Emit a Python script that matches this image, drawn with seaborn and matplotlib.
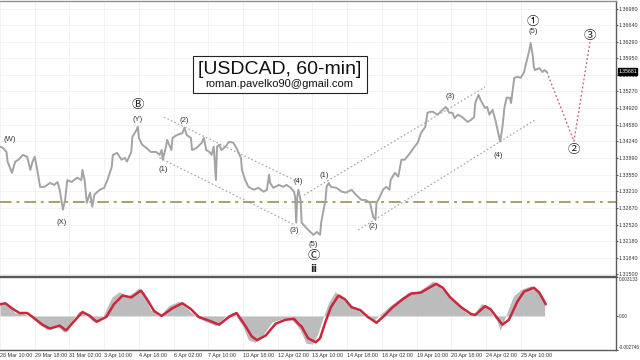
import numpy as np
import pandas as pd
import matplotlib
matplotlib.use("Agg")
import matplotlib.pyplot as plt
import matplotlib.transforms as mtrans
from matplotlib.patches import Rectangle
import seaborn as sns

sns.set_theme(style="white")
plt.rcParams['font.family'] = ['Liberation Sans', 'DejaVu Sans']

# ---------------- data ----------------
price_bars = [0, 3, 6, 7, 11, 14, 17, 21, 25, 28, 30, 32, 34, 37, 41, 46, 50, 53, 55, 57, 58, 60, 62, 66, 71, 75, 76, 78,
              80, 83, 85, 87, 92, 96, 99, 103, 104, 108, 112, 115, 117, 121, 122, 126, 127, 128, 131, 135, 139, 144,
              147, 149, 150, 153, 154, 158, 159, 163, 168, 170, 172, 176, 177, 181, 186, 188, 190, 193, 195, 197, 199,
              200, 202, 204, 208, 211, 215, 218, 222, 223, 226, 229, 234, 238, 243, 246, 248, 249, 252, 257, 261, 264,
              268, 271, 272, 273, 274, 275, 277, 278, 282, 286, 289, 292, 295, 296, 300, 301, 303, 305, 310, 315, 319,
              324, 328, 333, 337, 341, 344, 346, 347, 350, 353, 356, 359, 360, 364, 367, 370, 373, 378, 382, 385, 388,
              392, 394, 397, 399, 403, 408, 411, 414, 417, 419, 422, 426, 431, 434, 437, 438, 441, 443, 447, 449, 451,
              454, 457, 460, 461, 463, 465, 467, 470, 471, 474, 477, 480, 483, 485, 488, 489, 491, 492, 493, 497, 500,
              502, 504]
price_vals = [1.3413, 1.3410, 1.3402, 1.3382, 1.3359, 1.3382, 1.3386, 1.3396, 1.3392, 1.3365, 1.3382, 1.3392, 1.3369,
              1.3330, 1.3330, 1.3338, 1.3334, 1.3340, 1.3324, 1.3297, 1.3283, 1.3303, 1.3344, 1.3340, 1.3349, 1.3344,
              1.3365, 1.3344, 1.3297, 1.3318, 1.3289, 1.3314, 1.3324, 1.3328, 1.3344, 1.3371, 1.3396, 1.3400, 1.3386,
              1.3390, 1.3382, 1.3402, 1.3433, 1.3448, 1.3454, 1.3431, 1.3417, 1.3410, 1.3402, 1.3402, 1.3396, 1.3406,
              1.3386, 1.3413, 1.3427, 1.3406, 1.3431, 1.3437, 1.3441, 1.3452, 1.3437, 1.3431, 1.3406, 1.3410, 1.3421,
              1.3431, 1.3406, 1.3402, 1.3396, 1.3413, 1.3344, 1.3413, 1.3417, 1.3406, 1.3413, 1.3423, 1.3421, 1.3410,
              1.3390, 1.3365, 1.3344, 1.3330, 1.3324, 1.3328, 1.3320, 1.3324, 1.3355, 1.3338, 1.3328, 1.3334, 1.3330,
              1.3334, 1.3328, 1.3320, 1.3309, 1.3256, 1.3309, 1.3324, 1.3303, 1.3256, 1.3246, 1.3237, 1.3231, 1.3237,
              1.3231, 1.3256, 1.3303, 1.3330, 1.3338, 1.3330, 1.3328, 1.3320, 1.3318, 1.3324, 1.3314, 1.3303, 1.3303,
              1.3297, 1.3268, 1.3262, 1.3297, 1.3309, 1.3324, 1.3330, 1.3324, 1.3344, 1.3359, 1.3351, 1.3386, 1.3386,
              1.3400, 1.3413, 1.3421, 1.3441, 1.3454, 1.3483, 1.3485, 1.3485, 1.3479, 1.3489, 1.3495, 1.3483, 1.3483,
              1.3472, 1.3479, 1.3474, 1.3464, 1.3468, 1.3474, 1.3503, 1.3520, 1.3509, 1.3493, 1.3495, 1.3479, 1.3489,
              1.3464, 1.3433, 1.3423, 1.3452, 1.3495, 1.3514, 1.3514, 1.3503, 1.3555, 1.3557, 1.3555, 1.3567, 1.3586,
              1.3613, 1.3627, 1.3602, 1.3578, 1.3571, 1.3575, 1.3567, 1.3571, 1.3567]

osc_line_bars = [0, 5, 12, 18, 25, 30, 39, 46, 55, 61, 67, 76, 83, 89, 98, 105, 113, 121, 126, 130, 135, 142, 149, 159,
                 168, 176, 183, 193, 202, 211, 218, 226, 232, 237, 245, 254, 263, 271, 275, 278, 284, 291, 295, 300,
                 305, 312, 318, 324, 332, 339, 347, 354, 362, 371, 379, 388, 394, 402, 408, 415, 425, 434, 438, 447,
                 452, 463, 469, 477, 483, 492, 497, 503]
osc_line_vals = [0.000941, 0.001019, 0.000549, 0.000235, 0.000235, -0.000078, -0.000706, -0.001019, -0.000784,
                 -0.001176, -0.000549, 0.000314, 0.0, -0.000470, -0.000078, 0.000941, 0.001646, 0.001490, 0.001803,
                 0.002038, 0.001411, 0.000392, 0.0, 0.000627, 0.001019, 0.000549, -0.000078, -0.000392, -0.000706,
                 -0.000078, 0.000235, -0.000784, -0.001646, -0.001960, -0.001568, -0.000627, -0.000314, -0.000235,
                 -0.000627, -0.000862, -0.001803, -0.002117, -0.001803, -0.000470, 0.000706, 0.001646, 0.001333,
                 0.000706, 0.000470, -0.000078, -0.000549, 0.0, 0.000706, 0.001333, 0.001803, 0.001882, 0.002195,
                 0.002587, 0.002274, 0.001490, 0.000706, 0.000157, 0.000078, 0.000784, 0.000549, -0.000706,
                 -0.000314, 0.001176, 0.001960, 0.002274, 0.001882, 0.000941]

osc_hist_bars = [0, 7, 14, 20, 28, 37, 43, 52, 59, 64, 73, 80, 86, 95, 103, 110, 117, 124, 128, 133, 139, 147, 156,
                 165, 172, 181, 190, 199, 208, 215, 224, 229, 235, 242, 251, 260, 268, 273, 277, 282, 288, 293, 298,
                 303, 309, 315, 321, 330, 337, 344, 351, 360, 370, 376, 385, 392, 399, 405, 413, 422, 431, 436, 444,
                 449, 458, 461, 466, 473, 480, 489, 495, 502]
osc_hist_vals = [0.001098, 0.000941, 0.000235, 0.000235, -0.000078, -0.000706, -0.001098, -0.000706, -0.001333,
                 -0.000627, 0.000392, 0.0, -0.000470, 0.0, 0.001490, 0.001960, 0.001568, 0.001960, 0.002274,
                 0.001646, 0.000470, 0.0, 0.000862, 0.001176, 0.000627, -0.000078, -0.000470, -0.000784, 0.0,
                 0.000314, -0.000862, -0.001960, -0.002117, -0.001568, -0.000470, -0.000235, -0.000235, -0.000706,
                 -0.001176, -0.002195, -0.002274, -0.001411, -0.000078, 0.001098, 0.001960, 0.001411, 0.000941,
                 0.000470, -0.000078, -0.000392, 0.000157, 0.000862, 0.001490, 0.001882, 0.001960, 0.002352,
                 0.002822, 0.002352, 0.001646, 0.000862, 0.000157, 0.000078, 0.001019, 0.000706, -0.000392,
                 -0.001176, 0.0, 0.001568, 0.002117, 0.002430, 0.001960, 0.001333]

time_label_bars = [0, 32, 64, 96, 128, 160, 192, 224, 256, 288, 320, 352, 384, 416, 448, 480]
time_labels = ["28 Mar 10:00", "29 Mar 18:00", "31 Mar 02:00", "3 Apr 10:00", "4 Apr 18:00", "6 Apr 02:00",
               "7 Apr 10:00", "10 Apr 18:00", "12 Apr 02:00", "13 Apr 10:00", "14 Apr 18:00", "18 Apr 02:00",
               "19 Apr 10:00", "20 Apr 18:00", "24 Apr 02:00", "25 Apr 10:00"]

price_ticks = [1.31500, 1.31840, 1.32180, 1.32520, 1.32870, 1.33210, 1.33550, 1.33890, 1.34240, 1.34580,
               1.34920, 1.35270, 1.35610, 1.35950, 1.36290, 1.36640, 1.36980]
osc_ticks = [-0.002746, 0.0, 0.003133]
osc_tick_labels = ["-0.002746", "0.00", "0.003133"]

current_price = 1.35681
support_level = 1.3299

channel_lines = [  # (bar0, price0, bar1, price1)
    (151, 1.3474, 277, 1.3338),
    (147, 1.3390, 271, 1.3252),
    (280, 1.3313, 447, 1.3536),
    (330, 1.3241, 493, 1.3468),
]
projection_bars = [504, 529, 544]
projection_vals = [1.3567, 1.3424, 1.3633]

wave_labels = [  # (text, bar, price)
    ("(W)", 9, 1.3428), ("(X)", 57, 1.3257), ("(Y)", 127, 1.3470),
    ("(1)", 150, 1.3365), ("(2)", 170, 1.3466), ("(3)", 271, 1.3239),
    ("(4)", 275, 1.3342), ("(5)", 289, 1.3210), ("(1)", 299, 1.3353),
    ("(2)", 344, 1.3248), ("(3)", 415, 1.3516), ("(4)", 459, 1.3394),
    ("(5)", 491, 1.3650),
]
circled_labels = [("Ⓑ", 127, 1.3499), ("Ⓒ", 289, 1.3188), ("①", 491, 1.3672),
                  ("②", 529, 1.3408), ("③", 544, 1.3643)]

# ---------------- figure ----------------
W, H = 640, 360
RIGHT = 616
fig = plt.figure(figsize=(6.4, 3.6), dpi=100)
fig.patch.set_facecolor("white")
ax = fig.add_axes([0, (H - 276) / H, RIGHT / W, 275 / H])
ax2 = fig.add_axes([0, (H - 350) / H, RIGHT / W, 73 / H])

xmax = RIGHT / 1.085
for a in (ax, ax2):
    a.set_xlim(0, xmax)
    a.set_facecolor("white")
    a.spines['left'].set_visible(False)
    for s in ('top', 'right', 'bottom'):
        a.spines[s].set_color('#5a5a5a')
        a.spines[s].set_linewidth(1.0)
    a.yaxis.tick_right()
    a.tick_params(axis='y', length=1.5, pad=0.6, colors='#333333', width=0.6)
ax.spines['top'].set_color('#909090')
ax.tick_params(axis='y', labelsize=3.9)
ax2.tick_params(axis='y', labelsize=3.4)

# main price panel
ax.set_ylim(1.31460, 1.37136)
ax.set_yticks(price_ticks)
ax.set_yticklabels([f"{v:.5f}" for v in price_ticks])
ax.set_xticks(time_label_bars)
ax.tick_params(axis='x', length=0, labelbottom=False)
ax.grid(True, color='#f1f1f1', lw=0.6)

df_price = pd.DataFrame({"bar": price_bars, "price": price_vals})
sns.lineplot(data=df_price, x="bar", y="price", ax=ax, color='#a3a3a3', lw=1.4, zorder=3)
ax.set_xlabel("")
ax.set_ylabel("")

ax.axhline(support_level, color='#aaa06a', lw=1.4, dashes=(6, 2.5, 1.5, 2.5), zorder=2)
for b0, p0, b1, p1 in channel_lines:
    ax.plot([b0, b1], [p0, p1], color='#a0a0a0', lw=0.8, ls=(0, (1.5, 2)), zorder=2)
ax.plot(projection_bars, projection_vals, color='#c45a78', lw=0.9, ls=(0, (1.5, 1.8)), zorder=2)

for txt, b, p in wave_labels:
    ax.text(b, p, txt, fontsize=5.5, ha='center', va='center', color='#333333', zorder=5)
for txt, b, p in circled_labels:
    ax.text(b, p, txt, fontsize=9, ha='center', va='center', color='#222222', zorder=5,
            family=['Noto Sans CJK JP', 'DejaVu Sans'])
ax.text(289, 1.3161, "ii", fontsize=7, fontweight='bold', ha='center', va='center', color='#222222',
        family=['DejaVu Sans'])

# price tag
trans = mtrans.blended_transform_factory(ax.transAxes, ax.transData)
ax.text(1.0035, current_price, f"{current_price:.5f}", transform=trans, fontsize=3.7, color='white',
        ha='left', va='center', zorder=10, clip_on=False,
        bbox=dict(boxstyle='square,pad=0.12', fc='black', ec='black'))

# oscillator panel
ax2.set_ylim(-0.002746, 0.003136)
ax2.fill_between(osc_hist_bars, osc_hist_vals, 0, color='#bcbcbc', lw=0, zorder=2)
df_osc = pd.DataFrame({"bar": osc_line_bars, "val": osc_line_vals})
sns.lineplot(data=df_osc, x="bar", y="val", ax=ax2, color='#c8283c', lw=1.8, zorder=3)
ax2.set_xlabel("")
ax2.set_ylabel("")
ax2.set_yticks(osc_ticks)
ax2.set_yticklabels(osc_tick_labels)
ylabs = ax2.get_yticklabels()
ylabs[0].set_va('bottom')
ylabs[2].set_va('top')
ax2.set_xticks(time_label_bars)
ax2.set_xticklabels(time_labels)
ax2.tick_params(axis='x', labelsize=3.9, length=1.5, pad=0.5, colors='#333333', width=0.6)
for lab in ax2.get_xticklabels():
    lab.set_ha('left')
ax2.grid(True, axis='x', color='#f1f1f1', lw=0.6)

# title box
fig.add_artist(Rectangle((193 / W, (H - 93) / H), 174 / W, 37 / H, transform=fig.transFigure,
                         fc='white', ec='#222222', lw=0.8, zorder=10))
fig.text(280 / W, (H - 69) / H, "[USDCAD, 60-min]", fontsize=14, ha='center', va='center',
         color='#111111', zorder=11)
fig.text(279 / W, (H - 84) / H, "roman.pavelko90@gmail.com", fontsize=8, ha='center', va='center',
         color='#111111', zorder=11)

fig.savefig("out.png", dpi=100)
